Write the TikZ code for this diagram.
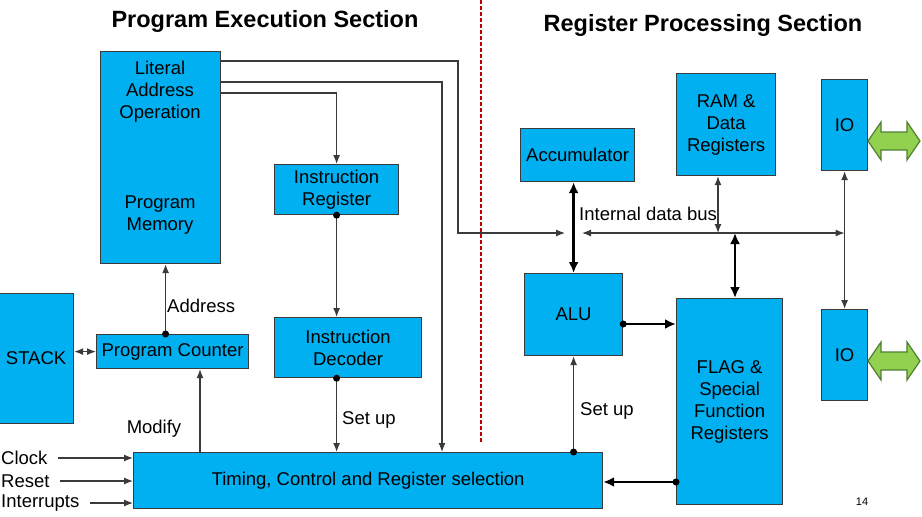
\documentclass[tikz,border=0pt]{standalone}
\usepackage{fontspec}
\setmainfont{Liberation Sans}
\usetikzlibrary{arrows.meta}
\definecolor{boxblue}{HTML}{00B0F0}
\definecolor{edge}{HTML}{3A3A3A}
\definecolor{leafgreen}{HTML}{92D050}
\definecolor{leafedge}{HTML}{507E32}
\definecolor{divider}{HTML}{C00000}

\begin{document}
\begin{tikzpicture}[x=1pt,y=-1pt,
  box/.style={draw=edge, line width=1.2pt, fill=boxblue, anchor=north west,
    inner sep=0pt, align=center, font=\fontsize{18.5}{22}\selectfont},
  lbl/.style={font=\fontsize{18.5}{22}\selectfont, inner sep=0pt, align=center},
  title/.style={font=\fontsize{23.5}{28}\selectfont\bfseries, inner sep=0pt},
  wire/.style={draw=edge, line width=1.2pt},
  arr/.style={wire, -{Latex[length=9pt,width=7pt]}},
  darr/.style={wire, {Latex[length=9pt,width=7pt]}-{Latex[length=9pt,width=7pt]}},
  bus/.style={draw=black, line width=2.8pt,
    {Latex[length=11pt,width=10pt]}-{Latex[length=11pt,width=10pt]}},
  busarr/.style={draw=black, line width=2.8pt, -{Latex[length=11pt,width=10pt]}},
  dot/.style={circle, fill=black, inner sep=0pt, minimum size=7pt},
  pics/greenlink/.style={code={
    \draw[draw=leafedge, fill=leafgreen, line width=1.2pt]
      (-26,0) -- (-13,-19) -- (-13,-9) -- (13,-9) -- (13,-19) -- (26,0)
      -- (13,19) -- (13,9) -- (-13,9) -- (-13,19) -- cycle;}}
]
\useasboundingbox (0,0) rectangle (922,517);

% section titles and divider
\node[title] (t1) at (265,21) {Program Execution Section};
\node[title] (t2) at (703,25) {Register Processing Section};
\coordinate (divtop) at (481,0);
\coordinate (divbot) at (481,443);
\draw[divider, line width=1.5pt, dash pattern=on 4pt off 2pt] (divtop) -- (divbot);

% program execution blocks
\node[box, minimum width=120pt, minimum height=212pt] (pm) at (100,51) {};
\node[lbl] (pmtop) at (160,92) {Literal\\Address\\Operation};
\node[lbl] (pmbot) at (160,215) {Program\\Memory};
\node[box, minimum width=124pt, minimum height=50pt] (ir) at (274,164) {Instruction\\Register};
\node[box, minimum width=147pt, minimum height=60pt] (id) at (274,317) {Instruction\\Decoder};
\node[box, minimum width=152pt, minimum height=34pt] (pc) at (96,334) {Program Counter};
\node[box, minimum width=75pt, minimum height=130pt] (stack) at (-2,293) {STACK};
\node[box, minimum width=469pt, minimum height=56pt] (tim) at (133,452) {Timing, Control and Register selection};

% register processing blocks
\node[box, minimum width=114pt, minimum height=53pt] (acc) at (520,128) {Accumulator};
\node[box, minimum width=98pt, minimum height=82pt] (alu) at (524,273) {ALU};
\node[box, minimum width=99pt, minimum height=102pt] (ram) at (676,73) {RAM \&\\Data\\Registers};
\node[box, minimum width=106pt, minimum height=206pt] (flag) at (676,298) {FLAG \&\\Special\\Function\\Registers};
\node[box, minimum width=46pt, minimum height=91pt] (io1) at (821,79) {IO};
\node[box, minimum width=46pt, minimum height=91pt] (io2) at (821,309) {IO};
\pic (link1) at (894,141) {greenlink};
\pic (link2) at (894,361) {greenlink};

% literal / address / operation outputs
\coordinate (busin) at (565,233);
\coordinate (litA) at (458,233);
\coordinate (litB) at (442,82);
\draw[arr] ([yshift=-10pt]pm.north east) -| (litA) -- (busin);
\draw[arr] ([yshift=-31pt]pm.north east) -| (tim.north -| litB);
\draw[arr] ([yshift=-42pt]pm.north east) -| (ir.north);

% instruction path
\draw[arr] (ir.south) -- (ir.south |- id.north);
\node[dot] (irdot) at (ir.south) {};
\draw[arr] (id.south -| ir.south) -- (tim.north -| ir.south);
\node[dot] (iddot) at (id.south -| ir.south) {};
\node[lbl, anchor=west] (setup1) at (342,420) {Set up};

% program counter
\coordinate (pcaddr) at ([xshift=-7pt]pc.north);
\draw[arr] (pcaddr) -- (pcaddr |- pm.south);
\node[dot] (pcdot) at (pcaddr) {};
\node[lbl, anchor=west] (addr) at (167,306) {Address};
\draw[darr] (stack.east |- pc.west) -- (pc.west);
\coordinate (modx) at (200,0);
\draw[arr] (tim.north -| modx) -- (pc.south -| modx);
\node[lbl] (modify) at (154,429) {Modify};

% external inputs
\node[lbl, anchor=west] (clk) at (1,458) {Clock};
\node[lbl, anchor=west] (rst) at (1,481) {Reset};
\node[lbl, anchor=west] (irq) at (1,503) {Interrupts};
\draw[arr, shorten <=10pt] (clk.east) -- (clk.east -| tim.west);
\draw[arr, shorten <=10pt] (rst.east) -- (rst.east -| tim.west);
\draw[arr, shorten <=10pt] (irq.east) -- (irq.east -| tim.west);

% internal data bus
\coordinate (busL) at (582,233);
\draw[darr] (busL) -- (busL -| io1.south);
\node[lbl, anchor=west] (busname) at (579,214) {Internal data bus};
\draw[bus] (acc.south -| alu.north) -- (alu.north);
\coordinate (ramx) at (718,0);
\draw[darr] (ram.south -| ramx) -- (busL -| ramx);
\coordinate (flagx) at (735,0);
\draw[bus] (busL -| flagx) -- (flag.north -| flagx);
\draw[darr] (io1.south) -- (io2.north);

% ALU and flag links
\coordinate (alurow) at (0,324);
\draw[busarr] (alu.east |- alurow) -- (flag.west |- alurow);
\node[dot] (aludot) at (alu.east |- alurow) {};
\coordinate (flagrow) at (0,482);
\draw[busarr] (flag.west |- flagrow) -- (tim.east |- flagrow);
\node[dot] (flagdot) at (flag.west |- flagrow) {};
\draw[arr] (tim.north -| alu.south) -- (alu.south);
\node[dot] (timdot) at (tim.north -| alu.south) {};
\node[lbl, anchor=west] (setup2) at (580,411) {Set up};

% page number
\node[font=\fontsize{11}{13}\selectfont, inner sep=0pt] (pgno) at (862,502) {14};
\end{tikzpicture}
\end{document}
